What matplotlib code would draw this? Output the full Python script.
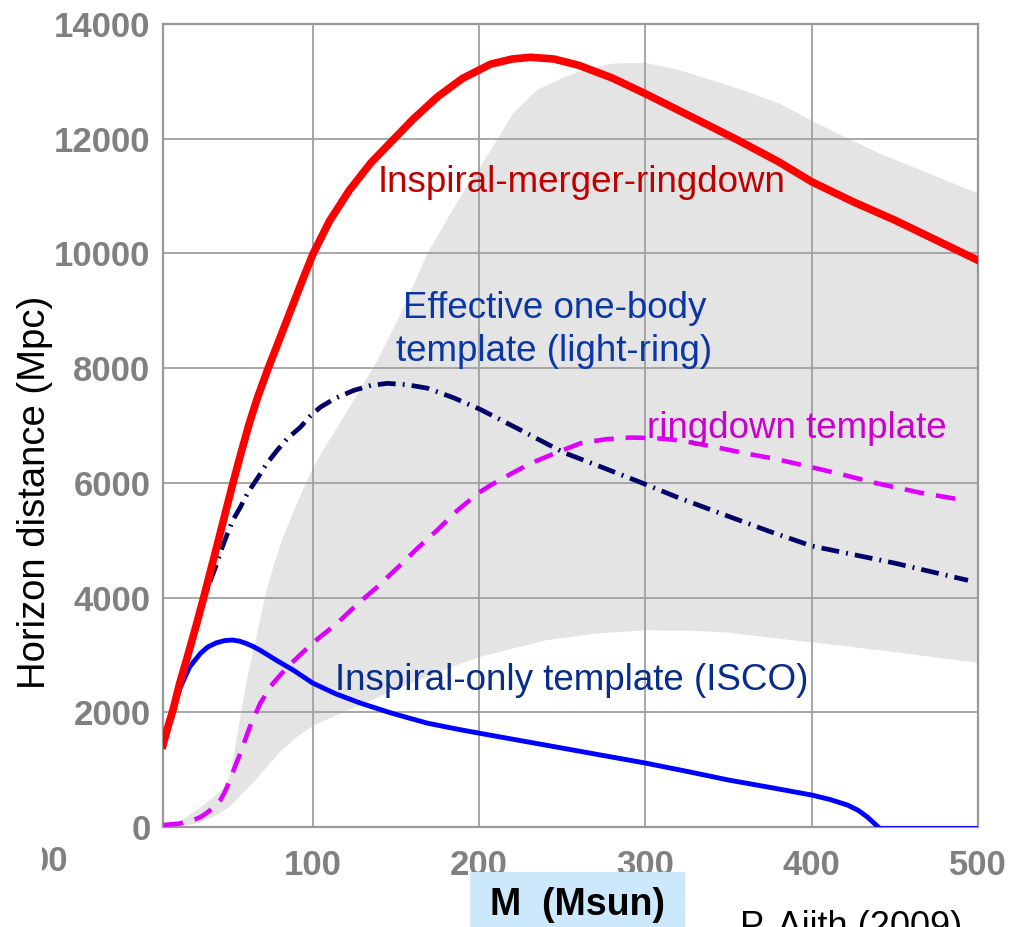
import matplotlib.pyplot as plt
from matplotlib.patches import Rectangle

# Total mass (Msun) and horizon distance (Mpc)
imr_m = [10, 13, 16, 20, 25, 30, 34, 38, 42, 47, 52, 57, 62, 67, 73, 80, 86, 93, 100, 110, 122, 135, 148.5,
         160, 175, 190, 207, 220, 231, 245, 260, 280, 300, 330, 355, 380, 400, 425, 450, 475, 500]
imr_d = [1430, 1750, 2040, 2500, 3000, 3520, 3950, 4400, 4850, 5420, 5990, 6530, 7050, 7500, 7980, 8500,
         8950, 9470, 9980, 10560, 11100, 11580, 11985, 12330, 12730, 13050, 13300, 13390, 13420, 13390,
         13280, 13060, 12785, 12350, 11985, 11600, 11250, 10900, 10580, 10230, 9880]

eob_m = [10, 16, 25, 32, 37, 41.6, 45, 48.8, 52, 56.5, 61, 66.8, 72, 78.7, 85, 92.6, 98, 104.6, 114, 124.5,
         135, 145, 157, 169, 185, 200.8, 225, 250.8, 275, 297, 320, 345, 375, 400, 425, 450, 472, 494]
eob_d = [1430, 2040, 3000, 3750, 4180, 4530, 4830, 5120, 5350, 5575, 5830, 6080, 6320, 6570, 6780, 6970,
         7150, 7320, 7480, 7610, 7700, 7735, 7710, 7650, 7480, 7280, 6920, 6530, 6260, 6010, 5740, 5470,
         5150, 4900, 4750, 4600, 4450, 4300]

rd_m = [10.3, 20, 28.3, 33, 37, 41, 44.5, 47, 50, 53, 56.5, 62, 68.5, 76, 84.8, 91, 100, 115, 127, 139, 151,
        163, 175, 187, 200, 207, 220, 231, 246, 261, 276, 291, 306, 321, 341, 361, 376, 390, 415, 439.5,
        465, 491]
rd_d = [35, 60, 120, 180, 260, 360, 470, 600, 800, 1030, 1290, 1730, 2160, 2500, 2790, 2960, 3210, 3560,
        3890, 4190, 4520, 4860, 5180, 5520, 5830, 5960, 6170, 6340, 6520, 6690, 6760, 6790, 6780, 6740,
        6630, 6510, 6430, 6340, 6170, 5990, 5830, 5700]

isco_m = [10, 13, 16, 20.5, 26, 32.6, 37, 42, 47, 51.7, 56, 60, 64, 68.5, 78, 88.3, 100, 114, 128.7, 148,
          169, 188, 206.9, 230, 250, 275, 300, 325, 350, 375, 400, 411, 421.5, 428, 433.5, 437, 440]
isco_d = [1430, 1760, 2050, 2440, 2790, 3030, 3140, 3210, 3250, 3260, 3240, 3200, 3150, 3080, 2910, 2735,
          2510, 2320, 2160, 1980, 1810, 1700, 1600, 1480, 1376, 1245, 1115, 970, 819, 690, 557, 480, 383,
          290, 174, 80, 0]
isco_tail_m = [440, 500]
isco_tail_d = [0, 0]

band_m = [11, 20, 30.6, 40.3, 45, 48.7, 52, 56.5, 61, 66.7, 72, 77, 82, 88, 93, 98.6, 106, 114.8, 126,
          138.9, 153, 169, 188, 207, 220.7, 235, 250.8, 265, 280.9, 300, 320, 341, 361, 381, 400, 420, 441,
          470, 500]
band_hi = [0, 100, 296, 520, 640, 765, 1150, 1916, 2650, 3380, 4100, 4600, 5030, 5470, 5800, 6167, 6560,
           6968, 7500, 8135, 8950, 10000, 10950, 11790, 12450, 12850, 13065, 13220, 13310, 13325, 13200,
           13010, 12820, 12610, 12315, 12030, 11740, 11400, 11045]
band_lo_m = [11, 20, 30, 40, 50, 57, 65, 72, 80, 90, 100, 115, 135, 150, 169, 185, 200, 220, 241, 270,
             300, 330, 350, 381, 400, 450, 500]
band_lo_d = [0, 15, 60, 170, 350, 560, 800, 1030, 1300, 1560, 1760, 1960, 2200, 2400, 2620, 2810, 2960,
             3110, 3260, 3370, 3430, 3420, 3390, 3280, 3220, 3050, 2860]

xticks = [100, 200, 300, 400, 500]
yticks = list(range(0, 14001, 2000))

fig = plt.figure(figsize=(10.24, 9.27), dpi=100)
ax = fig.add_axes([163 / 1024, 100 / 927, 815 / 1024, 803 / 927])

# grey band: upper edge and lower edge, filled between them
ax.fill(band_m + band_lo_m[::-1], band_hi + band_lo_d[::-1], color='#e4e4e4', lw=0, zorder=1)
ax.plot(imr_m, imr_d, color='#ff0000', lw=5.5, zorder=6)
ax.plot(eob_m, eob_d, color='#000066', lw=3.4, dashes=(3.8, 1.5, 0.4, 1.5), zorder=4)
ax.plot(rd_m, rd_d, color='#dd00ff', lw=3.3, dashes=(4.3, 2.6), zorder=4)
ax.plot(isco_m, isco_d, color='#0000ff', lw=3.5, zorder=5)
ax.plot(isco_tail_m, isco_tail_d, color='#0000ff', lw=1.3, zorder=5)

ax.set_xlim(10, 500)
ax.set_ylim(0, 14000)
ax.set_xticks(xticks)
ax.set_yticks(yticks)
ax.set_axisbelow('line')
ax.grid(True, color='#a0a0a0', lw=1.3)
for s in ax.spines.values():
    s.set_color('#999999')
    s.set_linewidth(1.6)
ax.tick_params(length=0, labelsize=25, labelcolor='#808080', pad=9)
for lab in ax.get_xticklabels() + ax.get_yticklabels():
    lab.set_fontfamily('Liberation Sans')
    lab.set_fontweight('bold')
ax.tick_params(axis='x', pad=16)

ax.set_ylabel('Horizon distance (Mpc)', fontsize=27.5, family='Liberation Sans', va='center')
ax.yaxis.set_label_coords(-0.157, 0.417)

tk = dict(family='Liberation Sans', fontsize=26.5, ha='center', va='center', zorder=7)
ax.text(261.6, 11236, 'Inspiral-merger-ringdown', color='#c00000', **tk)
ax.text(245.3, 8658, 'Effective one-body\ntemplate (light-ring)', color='#0b36a6', linespacing=1.3, **tk)
ax.text(391, 6950, 'ringdown template', color='#cc00cc', **tk)
ax.text(255.9, 2561, 'Inspiral-only template (ISCO)', color='#082c8c', **tk)

fig.patches.append(Rectangle((470 / 1024, 0), 215 / 1024, 55 / 927, transform=fig.transFigure,
                             fc='#cce9fb', ec='none', zorder=0))
fig.text(578 / 1024, 1 - 905 / 927, 'M  (Msun)', fontsize=27, fontweight='bold', family='Liberation Sans',
         ha='center', va='center')
fig.text(740 / 1024, 1 - 910 / 927, 'P. Ajith (2009)', fontsize=26, family='Liberation Sans',
         ha='left', va='top')
fig.text(68 / 1024, 1 - 845 / 927, '00', fontsize=25, fontweight='bold', color='#808080',
         family='Liberation Sans', ha='right', va='top')
# the left edge of the picture is cropped: hide part of the stray "00"
fig.patches.append(Rectangle((0, 1 - 880 / 927), 42 / 1024, 45 / 927, transform=fig.transFigure,
                             fc='white', ec='none', zorder=5))

fig.savefig('out.png', dpi=100)
